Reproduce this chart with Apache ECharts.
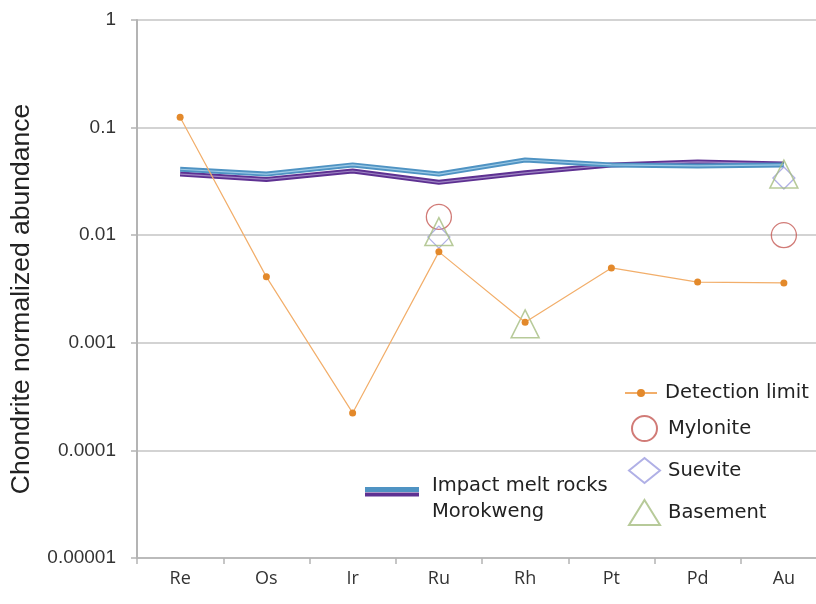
<!DOCTYPE html>
<html>
<head>
<meta charset="utf-8">
<script src="https://cdn.jsdelivr.net/npm/echarts@6/dist/echarts.min.js"></script>
<style>html,body{margin:0;padding:0;background:#fff}#c{width:816px;height:604px}</style>
</head>
<body>
<div id="c"></div>
<script>
var categories = ['Re','Os','Ir','Ru','Rh','Pt','Pd','Au'];
var yTickLabels = ['0.00001','0.0001','0.001','0.01','0.1','1'];
var impactMelt = [0.041, 0.037, 0.045, 0.037, 0.050, 0.045, 0.044, 0.045];
var morokweng = [0.037, 0.033, 0.0395, 0.031, 0.038, 0.045, 0.048, 0.046];
var detectionLimit = [0.125, 0.0041, 0.000223, 0.0070, 0.00155, 0.00496, 0.00367, 0.0036];
var mylonite = [null, null, null, 0.0148, null, null, null, 0.010];
var suevite = [null, null, null, 0.0096, null, null, null, 0.034];
var basement = [null, null, null, 0.0108, 0.0015, null, null, 0.037];

var chart = echarts.init(document.getElementById('c'), null, {renderer: 'canvas'});
var font = 'DejaVu Sans';
var legendText = {fontSize: 19.5, color: '#222', fontFamily: font, padding: [0, 0, 0, 3]};
chart.setOption({
  animation: false,
  backgroundColor: '#ffffff',
  grid: {left: 137, top: 20, width: 690, height: 538, containLabel: false, outerBoundsMode: 'none'},
  xAxis: {
    type: 'category', data: categories, boundaryGap: true,
    axisLine: {lineStyle: {color: '#b4b4b4', width: 1.5}},
    axisTick: {show: true, length: 6, lineStyle: {color: '#b4b4b4', width: 1.5}},
    axisLabel: {color: '#333', fontSize: 18, fontFamily: 'Open Sans', margin: 12},
    splitLine: {show: false}
  },
  yAxis: {
    type: 'log', logBase: 10, min: 0.00001, max: 1,
    name: 'Chondrite normalized abundance', nameLocation: 'middle', nameGap: 102,
    nameTextStyle: {fontSize: 26.5, color: '#222', fontFamily: 'Liberation Sans', padding: [0, 20, 0, 0]},
    axisLine: {show: true, lineStyle: {color: '#b4b4b4', width: 2}},
    axisTick: {show: true, length: 6, inside: false, lineStyle: {color: '#b4b4b4', width: 1.5}},
    axisLabel: {color: '#333', fontSize: 19, fontFamily: 'Liberation Sans', margin: 21,
      formatter: function (v) { var i = Math.round(Math.log10(v)) + 5; return yTickLabels[i] || ''; }},
    splitLine: {show: true, lineStyle: {color: '#c4c4c4', width: 1.5}}
  },
  legend: [
    {
      data: ['Detection limit'],
      left: 619, top: 378, itemWidth: 32, itemHeight: 10,
      textStyle: legendText
    },
    {
      data: ['Mylonite', 'Suevite', 'Basement'],
      orient: 'vertical', left: 623, top: 410, itemWidth: 31, itemHeight: 25, itemGap: 15,
      textStyle: legendText
    },
    {
      data: [{name: 'Morokweng', icon: 'rect'}],
      left: 360, top: 487.5, itemWidth: 54, itemHeight: 4,
      formatter: function () { return ''; },
      textStyle: {fontSize: 16}
    },
    {
      data: [{name: 'Impact melt rocks', icon: 'rect'}],
      left: 360, top: 482, itemWidth: 54, itemHeight: 5,
      formatter: function () { return ''; },
      textStyle: {fontSize: 16}
    },
    {
      data: [{name: 'Impact melt rocks', icon: 'rect', itemStyle: {opacity: 0}}],
      left: 421, top: 468, itemWidth: 1, itemHeight: 2,
      formatter: function () { return 'Impact melt rocks\nMorokweng'; },
      textStyle: {fontSize: 19.5, color: '#222', fontFamily: font, lineHeight: 26}
    }
  ],
  series: [
    {name: 'Morokweng', type: 'line', data: morokweng, symbol: 'none', z: 2,
      lineStyle: {color: '#5e3192', width: 5}, itemStyle: {color: '#5e3192'}},
    {name: 'mk-hl', type: 'line', data: morokweng, symbol: 'none', z: 2, silent: true,
      lineStyle: {color: '#9f86c4', width: 1.2}},
    {name: 'Impact melt rocks', type: 'line', data: impactMelt, symbol: 'none', z: 3,
      lineStyle: {color: '#4f93c3', width: 5}, itemStyle: {color: '#4f93c3'}},
    {name: 'im-hl', type: 'line', data: impactMelt, symbol: 'none', z: 3, silent: true,
      lineStyle: {color: '#9fcbe6', width: 1.2}},
    {name: 'Detection limit', type: 'line', data: detectionLimit, symbol: 'circle', symbolSize: 7, z: 5,
      lineStyle: {color: '#f2ae6a', width: 1.2}, itemStyle: {color: '#e3892b'}},
    {name: 'Mylonite', type: 'scatter', data: mylonite, symbol: 'circle', symbolSize: 25, z: 4,
      itemStyle: {color: 'rgba(255,255,255,0)', borderColor: '#c65a55', borderWidth: 1.3}},
    {name: 'Suevite', type: 'scatter', data: suevite, symbol: 'diamond', symbolSize: 22, z: 4,
      itemStyle: {color: 'rgba(255,255,255,0)', borderColor: '#9c9ce0', borderWidth: 1.3}},
    {name: 'Basement', type: 'scatter', data: basement, symbol: 'triangle', symbolSize: 28, z: 4,
      itemStyle: {color: 'rgba(255,255,255,0)', borderColor: '#a5bd7f', borderWidth: 1.5}}
  ]
});
</script>
</body>
</html>
